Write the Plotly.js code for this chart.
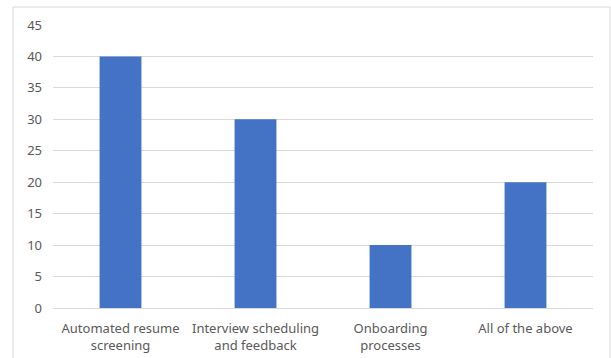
<!DOCTYPE html>
<html>
<head>
<meta charset="utf-8">
<script src="https://cdn.plot.ly/plotly-3.0.1.min.js"></script>
<style>
  html, body { margin: 0; padding: 0; background: #ffffff; }
  #chart { width: 611px; height: 358px; }
</style>
</head>
<body>
<div id="chart"></div>
<script>
// Survey categories (multi-line tick labels) and response counts
const categories = [
  "Automated resume<br>screening",
  "Interview scheduling<br>and feedback",
  "Onboarding<br>processes",
  "All of the above"
];
const counts = [40, 30, 10, 20];
const yTicks = [0, 5, 10, 15, 20, 25, 30, 35, 40, 45];

const W = 611, H = 358;
const margin = { l: 53, r: 18, t: 25, b: 50, pad: 0 };
const plotW = W - margin.l - margin.r;
const plotH = H - margin.t - margin.b;

// Light frame around the whole chart area, expressed in paper units
const fx0 = (13 - margin.l) / plotW;
const fx1 = (610 - margin.l) / plotW;
const fy1 = (H - 7 - margin.b) / plotH;
const fy0 = (margin.b - H - 10) / plotH;

const trace = {
  type: "bar",
  x: categories,
  y: counts,
  marker: { color: "#4472C4" },
  hoverinfo: "skip"
};

const layout = {
  width: W,
  height: H,
  margin: margin,
  paper_bgcolor: "#ffffff",
  plot_bgcolor: "#ffffff",
  bargap: 0.69,
  showlegend: false,
  font: { family: "Noto Sans, sans-serif", size: 13, color: "#595959" },
  xaxis: {
    type: "category",
    showgrid: false,
    showline: true,
    linecolor: "#d9d9d9",
    linewidth: 1,
    ticks: "",
    ticklabelstandoff: 8,
    tickfont: { size: 13, color: "#595959" },
    fixedrange: true
  },
  yaxis: {
    range: [0, 45],
    tickvals: yTicks,
    showgrid: true,
    gridcolor: "#d9d9d9",
    gridwidth: 1,
    zeroline: false,
    showline: false,
    ticks: "",
    ticklabelstandoff: 10,
    tickfont: { size: 13, color: "#595959" },
    fixedrange: true
  },
  shapes: [{
    type: "rect",
    xref: "paper", yref: "paper",
    x0: fx0, x1: fx1, y0: fy0, y1: fy1,
    line: { color: "#d9d9d9", width: 1 },
    fillcolor: "rgba(0,0,0,0)",
    layer: "below"
  }]
};

Plotly.newPlot("chart", [trace], layout, { displayModeBar: false, staticPlot: true });
</script>
</body>
</html>
